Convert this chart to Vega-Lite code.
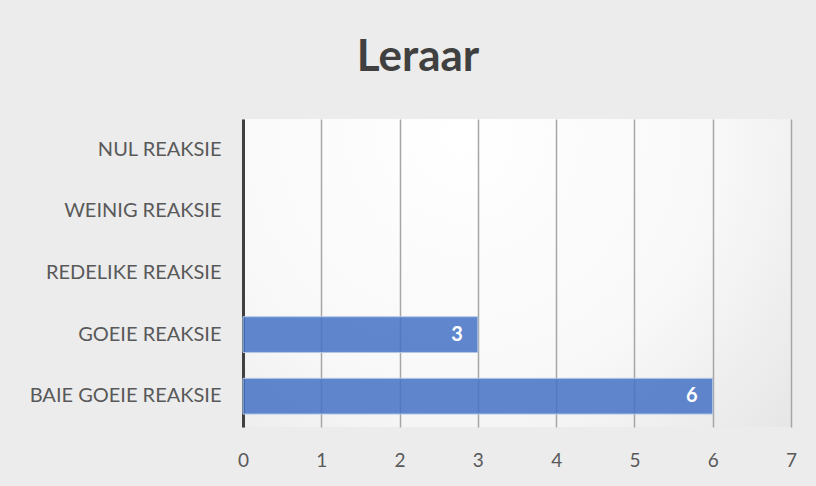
{
  "$schema": "https://vega.github.io/schema/vega-lite/v6.json",
  "autosize": "none",
  "width": 548,
  "height": 308,
  "padding": {"left": 243, "top": 119, "right": 25, "bottom": 59},
  "background": "#ececec",
  "config": {
    "view": {
      "stroke": null,
      "fill": {"gradient": "radial", "x1": 0.4, "y1": 0.25, "r1": 0, "x2": 0.4, "y2": 0.25, "r2": 0.95,
        "stops": [{"offset": 0, "color": "#ffffff"}, {"offset": 0.5, "color": "#f8f8f8"}, {"offset": 1, "color": "#dedede"}]}
    },
    "font": "Lato"
  },
  "title": {
    "text": "Leraar",
    "fontSize": 44,
    "fontWeight": "bold",
    "color": "#404040",
    "font": "Lato",
    "anchor": "middle",
    "dx": -99,
    "offset": 39
  },
  "data": {
    "values": [
      {"cat": "NUL REAKSIE", "value": 0},
      {"cat": "WEINIG REAKSIE", "value": 0},
      {"cat": "REDELIKE REAKSIE", "value": 0},
      {"cat": "GOEIE REAKSIE", "value": 3},
      {"cat": "BAIE GOEIE REAKSIE", "value": 6}
    ]
  },
  "encoding": {
    "y": {
      "field": "cat", "type": "nominal", "sort": null,
      "scale": {"domain": ["NUL REAKSIE", "WEINIG REAKSIE", "REDELIKE REAKSIE", "GOEIE REAKSIE", "BAIE GOEIE REAKSIE"], "paddingInner": 0.42, "paddingOuter": 0.21},
      "axis": {"title": null, "ticks": false, "labelFontSize": 20, "labelColor": "#595959", "labelPadding": 22, "labelLimit": 400,
        "domainColor": "#404040", "domainWidth": 3, "grid": false, "labelFont": "Lato"}
    },
    "x": {
      "field": "value", "type": "quantitative",
      "scale": {"domain": [0, 7], "nice": false},
      "axis": {"title": null, "ticks": false, "tickCount": 7, "labelFontSize": 19, "labelColor": "#595959", "labelPadding": 24,
        "labelFlush": false, "domain": false, "grid": true, "gridColor": "#a6a6a6", "gridWidth": 1.5, "labelFont": "Lato"}
    }
  },
  "layer": [
    {
      "transform": [{"filter": "datum.value > 0"}],
      "mark": {"type": "bar", "color": "#4472C4", "fillOpacity": 0.85, "stroke": "#b4c7e7", "strokeWidth": 1}
    },
    {
      "transform": [{"filter": "datum.value > 0"}],
      "mark": {"type": "text", "align": "right", "dx": -15, "baseline": "middle", "color": "white", "fontSize": 20, "fontWeight": "bold", "font": "Lato"},
      "encoding": {"text": {"field": "value", "type": "quantitative"}}
    }
  ]
}
